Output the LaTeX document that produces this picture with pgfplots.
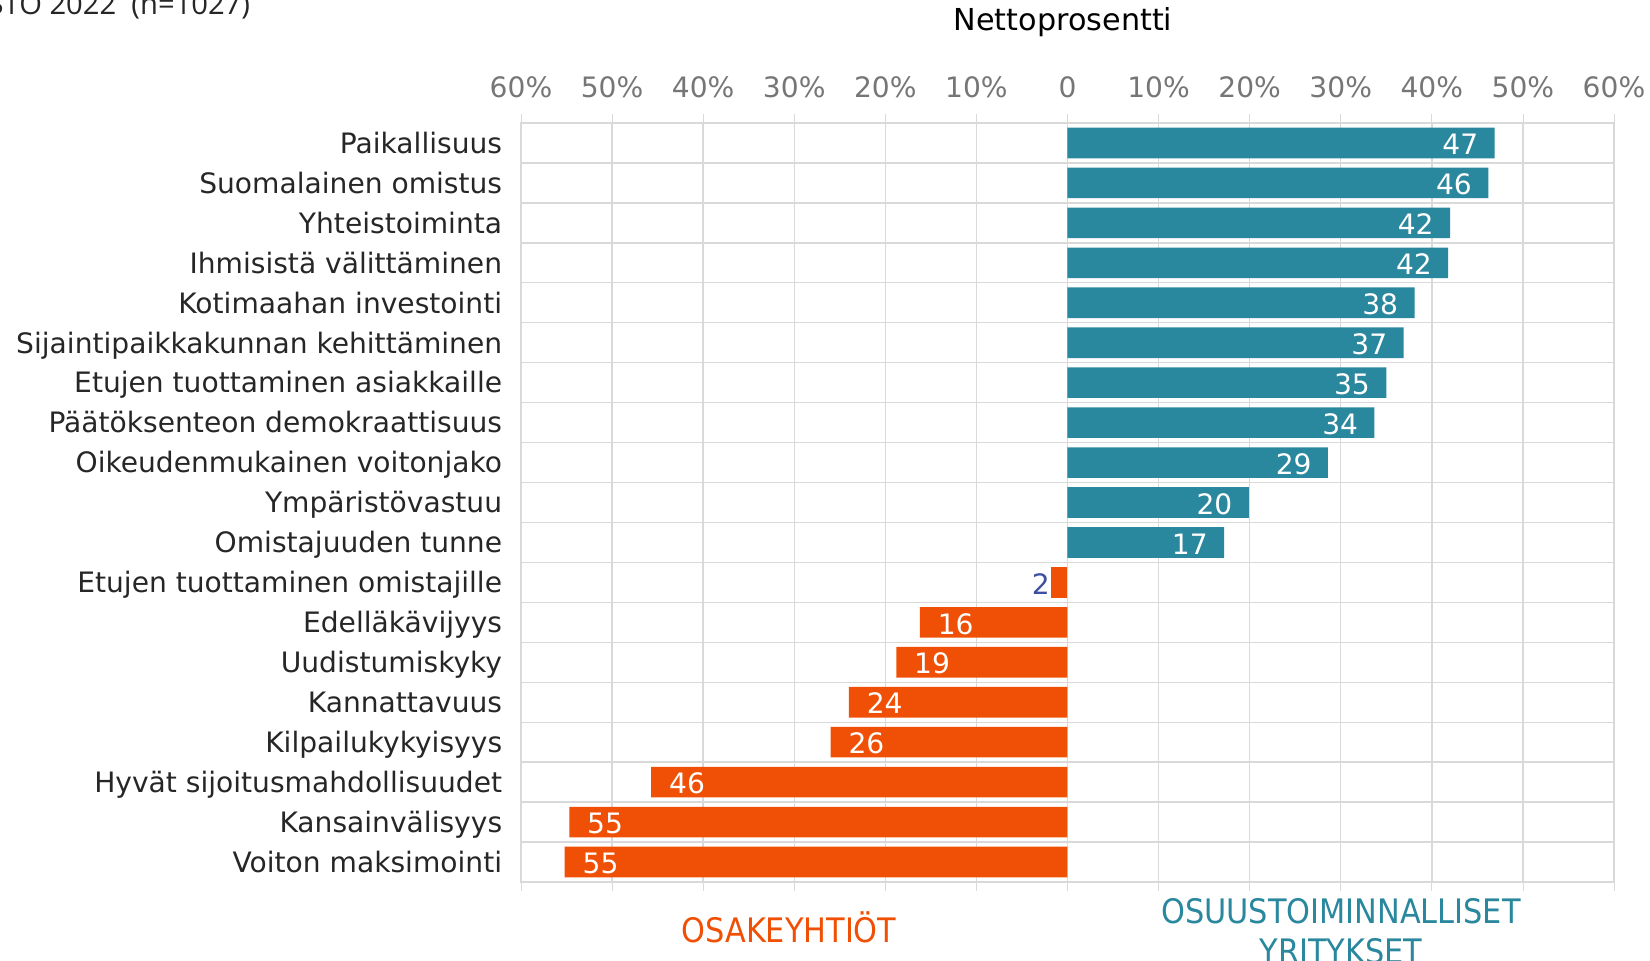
\documentclass[border=0pt]{standalone}
\usepackage{pgfplots}
\pgfplotsset{compat=1.18}
\usepackage{pgfplotstable}
\usepackage{fontspec}
\setmainfont{DejaVu Sans}
\newfontfamily\condfont{DejaVu Sans Condensed}
\newfontfamily\opfont{Open Sans}
\definecolor{teal}{RGB}{41,135,158}
\definecolor{orng}{RGB}{240,80,5}
\definecolor{gridc}{RGB}{217,217,217}
\definecolor{tickc}{RGB}{118,118,118}
\definecolor{labc}{RGB}{38,38,38}
\definecolor{bluel}{RGB}{64,80,160}

\pgfplotstableread{
y x lbl
0 46.9 47
1 46.2 46
2 42.0 42
3 41.8 42
4 38.1 38
5 36.9 37
6 35.0 35
7 33.7 34
8 28.6 29
9 19.9 20
10 17.2 17
}\pos
\pgfplotstableread{
y x lbl
12 -16.2 16
13 -18.8 19
14 -24.0 24
15 -26.0 26
16 -45.7 46
17 -54.7 55
18 -55.2 55
}\nega
\pgfplotstableread{
y x lbl
11 -1.8 2
}\small

\begin{document}
\begin{tikzpicture}[x=0.1mm,y=0.1mm]
\useasboundingbox (0,0) rectangle (1650,961);
\node[anchor=base west, inner sep=0pt, text=labc, font=\opfont\fontsize{8.3}{10}\selectfont] at (-13,946) {STO 2022\ \ (n=1027)};
\node[anchor=center, text=black, font=\fontsize{8.6}{10}\selectfont] at (1063,939) {Nettoprosentti};
\node[anchor=center, text=orng, font=\condfont\fontsize{9.6}{11}\selectfont] at (789,34) {OSAKEYHTIÖT};
\node[anchor=center, text=teal, align=center, font=\condfont\fontsize{9.6}{11}\selectfont] at (1341,30) {OSUUSTOIMINNALLISET\\[0.5pt]YRITYKSET};
\begin{axis}[
  at={(52.1mm,7.9mm)}, anchor=south west,
  scale only axis, width=109.3mm, height=75.9mm,
  xmin=-60, xmax=60, ymin=-0.5, ymax=18.5, y dir=reverse,
  xbar, bar width=3.06mm, /pgf/bar shift=0pt,
  xtick={-60,-50,...,60},
  xticklabels={60\%,50\%,40\%,30\%,20\%,10\%,0,10\%,20\%,30\%,40\%,50\%,60\%},
  xticklabel pos=upper,
  tick align=outside, major tick length=0.9mm,
  x tick style={draw=gridc},
  xmajorgrids, grid style={draw=gridc, line width=0.4pt},
  ytick={0,...,18},
  yticklabels={Paikallisuus,Suomalainen omistus,Yhteistoiminta,Ihmisistä välittäminen,Kotimaahan investointi,Sijaintipaikkakunnan kehittäminen,Etujen tuottaminen asiakkaille,Päätöksenteon demokraattisuus,Oikeudenmukainen voitonjako,Ympäristövastuu,Omistajuuden tunne,Etujen tuottaminen omistajille,Edelläkävijyys,Uudistumiskyky,Kannattavuus,Kilpailukykyisyys,Hyvät sijoitusmahdollisuudet,Kansainvälisyys,Voiton maksimointi},
  y tick style={draw=none},
  minor ytick={0.5,1.5,...,17.5},
  yminorgrids, minor grid style={draw=gridc, line width=0.4pt},
  axis line style={draw=gridc},
  xticklabel style={text=tickc, font=\fontsize{8}{9.6}\selectfont, yshift=0.4mm},
  yticklabel style={text=labc, font=\fontsize{8}{9.6}\selectfont, xshift=0.25mm, yshift=-0.1mm, text height=0.75em, text depth=0.22em},
  point meta=explicit symbolic,
  nodes near coords,
  nodes near coords style={font=\fontsize{8}{9.6}\selectfont, text height=0.75em, text depth=0.2em, yshift=-0.2mm},
]
\addplot[fill=teal, draw=none,
  every node near coord/.append style={anchor=east, text=white, xshift=-0.4mm}]
  table[x=x, y=y, meta=lbl] {\pos};
\addplot[fill=orng, draw=none,
  every node near coord/.append style={anchor=west, text=white, xshift=0.55mm}]
  table[x=x, y=y, meta=lbl] {\nega};
\addplot[fill=orng, draw=none,
  every node near coord/.append style={anchor=east, text=bluel, xshift=1.1mm}]
  table[x=x, y=y, meta=lbl] {\small};
\end{axis}
\end{tikzpicture}
\end{document}
